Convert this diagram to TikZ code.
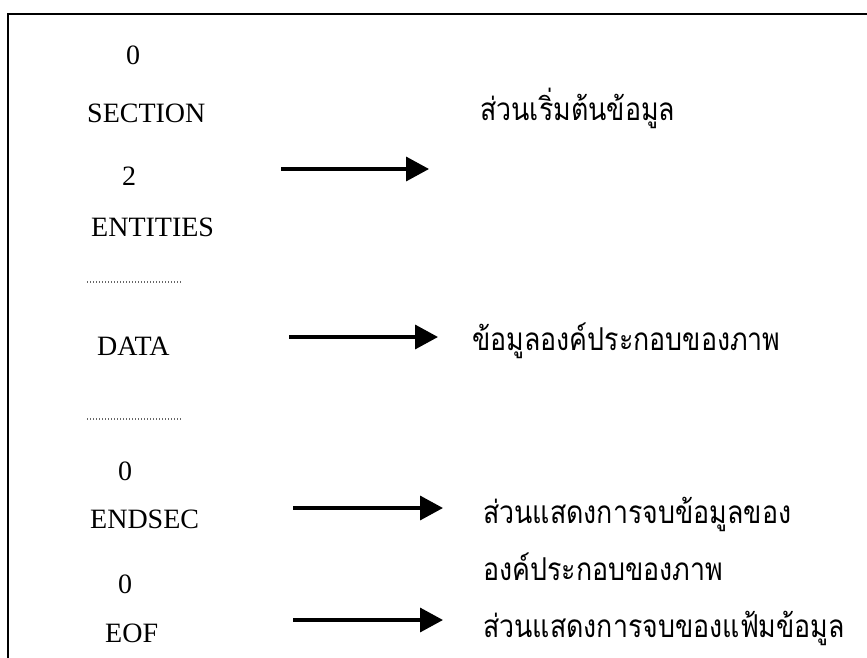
\documentclass[tikz,border=0pt]{standalone}
\usepackage{fontspec}
\setmainfont{Liberation Serif}
\newfontfamily\thaifont[Script=Thai,FakeStretch=0.85]{Loma}
\usetikzlibrary{arrows.meta}
\begin{document}
\begin{tikzpicture}[x=1pt,y=-1pt,
  code/.style={anchor=base west,inner sep=0pt,font=\fontsize{28}{30}\selectfont},
  note/.style={anchor=base west,inner sep=0pt,font=\thaifont\fontsize{31.5}{34}\selectfont},
  pointer/.style={line width=3.5pt,-{Triangle[length=23pt,width=24pt]}},
  filler/.style={black!60,line width=1.1pt,dash pattern=on 1.1pt off 1.9pt}]
\useasboundingbox (0,0) rectangle (867,658);
\clip (0,0) rectangle (867,658);
% frame
\draw[line width=2.2pt] (8,14) rectangle (900,700);
% file lines
\node[code] (z1) at (126,65) {0};
\node[code] (sec) at (87,123) {SECTION};
\node[code] (two) at (122,185) {2};
\node[code] (ent) at (91,236) {ENTITIES};
\draw[filler] (87,282) -- (182,282);
\node[code] (data) at (97,355) {DATA};
\draw[filler] (87,419) -- (182,419);
\node[code] (z2) at (118,480) {0};
\node[code] (endsec) at (90,528) {ENDSEC};
\node[code] (z3) at (118,593) {0};
\node[code] (eof) at (105,642) {EOF};
% descriptions
\node[note] (n1) at (480,121) {ส่วนเริ่มต้นข้อมูล};
\node[note] (n2) at (472,350) {ข้อมูลองค์ประกอบของภาพ};
\node[note] (n3) at (483,523) {ส่วนแสดงการจบข้อมูลของ};
\node[note] (n4) at (483,580) {องค์ประกอบของภาพ};
\node[note] (n5) at (483,637) {ส่วนแสดงการจบของแฟ้มข้อมูล};
% arrows
\coordinate (a1s) at (281,169); \coordinate (a1e) at (429,169);
\coordinate (a2s) at (289,337); \coordinate (a2e) at (438,337);
\coordinate (a3s) at (293,508); \coordinate (a3e) at (443,508);
\coordinate (a4s) at (293,620); \coordinate (a4e) at (443,620);
\draw[pointer] (a1s) -- (a1e);
\draw[pointer] (a2s) -- (a2e);
\draw[pointer] (a3s) -- (a3e);
\draw[pointer] (a4s) -- (a4e);
\end{tikzpicture}
\end{document}
